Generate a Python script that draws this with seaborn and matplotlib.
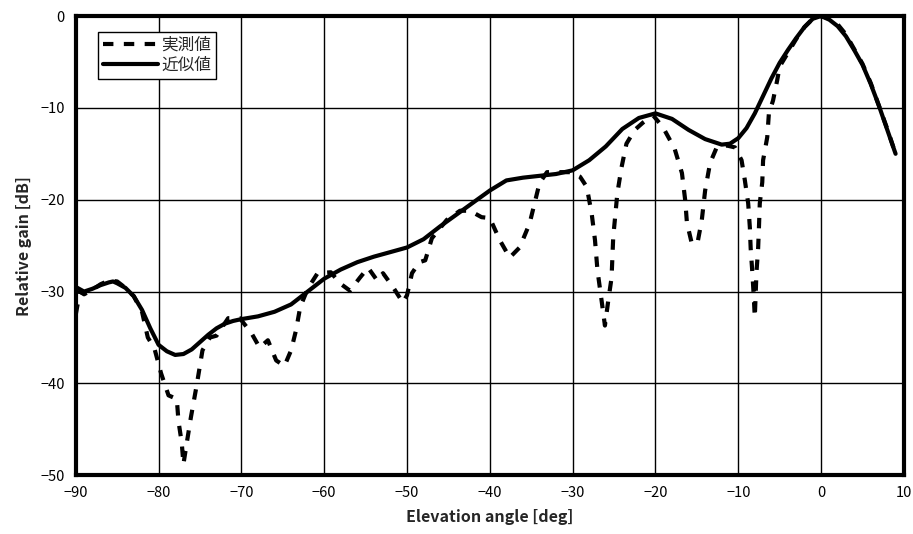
import numpy as np
import pandas as pd
import matplotlib
matplotlib.use("Agg")
import matplotlib.pyplot as plt
import seaborn as sns

# measured pattern (dashed)
meas_x = [-90, -89.5, -89, -88, -87, -86, -85, -84, -83, -82, -81.3, -80.5, -79.7,
          -78.8, -77.8, -77.6, -77.2, -77.0, -76.6, -76.1, -75.4, -74.7, -73.8, -73.0,
          -71.6, -70.2, -68.8, -67.8, -66.8, -65.8, -64.8, -64.0, -63.4, -62.9, -62.0,
          -60.8, -59.2, -58.1, -56.9, -55.7, -54.7, -53.6, -52.9, -51.7, -50.5, -50.0,
          -49.4, -48.5, -47.8, -47.0, -45.2, -43.6, -42.4, -41.0, -40.0, -38.8, -37.6,
          -36.4, -35.2, -34.0, -33.1, -30.3, -29.1, -28.3, -27.7, -27.3, -27.0, -26.5,
          -26.1, -25.7, -25.3, -25.1, -24.6, -24.1, -23.5, -22.5, -21.5, -20.3, -19.1,
          -17.7, -16.8, -16.4, -16.2, -15.6, -14.9, -14.4, -14.0, -13.4, -12.6, -11.4,
          -10.4, -9.6, -9.2, -8.8, -8.6, -8.5, -8.3, -8.15, -8.0, -7.8, -7.6, -7.5,
          -7.4, -7.1, -7.0, -6.5, -6.3, -5.8, -5.3, -5.0, -4, -3, -2, -1, 0, 1, 2, 3,
          4, 5, 6, 7, 8, 9]
meas_y = [-32.5, -30.0, -30.3, -29.8, -29.2, -28.8, -28.9, -29.6, -30.5, -32.2, -35.0,
          -36.2, -38.9, -41.3, -41.7, -44.1, -46.5, -48.8, -46.5, -43.7, -40.2, -36.4,
          -35.0, -34.8, -32.9, -32.9, -34.5, -36.1, -35.3, -37.5, -38.1, -36.4, -34.2,
          -31.7, -29.7, -28.0, -27.9, -29.1, -29.9, -28.5, -27.4, -28.8, -28.0, -29.5,
          -31.2, -30.4, -28.0, -26.8, -26.6, -24.2, -22.2, -21.2, -21.2, -21.9, -22.0,
          -24.4, -26.3, -25.2, -22.6, -18.2, -17.0, -17.0, -17.5, -18.6, -21.5, -24.4,
          -27.7, -31.0, -33.7, -31.0, -28.5, -24.1, -19.3, -16.5, -13.9, -12.4, -11.6,
          -10.8, -12.1, -14.4, -17.1, -20.1, -22.5, -24.8, -24.6, -22.2, -19.0, -16.0,
          -14.3, -14.1, -14.3, -15.7, -17.9, -20.4, -23.0, -25.3, -27.9, -30.2, -32.8,
          -27.9, -25.3, -23.0, -20.4, -18.1, -15.7, -13.2, -10.6, -9.2, -7.0, -5.5,
          -4.0, -2.5, -1.2, -0.3, 0.0, -0.3, -0.9, -2.0, -3.6, -5.2, -7.3, -9.8, -12.3,
          -15.0]

# fitted pattern (solid)
fit_x = [-90, -89, -88, -87, -86, -85.5, -85, -84, -83, -82, -81, -80, -79, -78, -77,
         -76, -75, -74, -73, -72, -71, -70, -68, -66, -64, -62, -60, -58, -56, -54,
         -52, -50, -48, -46, -44, -42, -40, -38, -36, -34, -32, -30, -28, -26, -24,
         -22, -20, -18, -16, -14, -12, -11, -10, -9, -8, -7, -6, -5, -4, -3, -2, -1,
         0, 1, 2, 3, 4, 5, 6, 7, 8, 9]
fit_y = [-29.5, -30.0, -29.7, -29.3, -29.0, -28.9, -29.1, -29.6, -30.5, -32.0, -34.0,
         -35.8, -36.5, -36.9, -36.8, -36.3, -35.5, -34.7, -34.0, -33.5, -33.2, -33.0,
         -32.7, -32.2, -31.4, -30.0, -28.6, -27.6, -26.8, -26.2, -25.7, -25.2, -24.3,
         -22.9, -21.6, -20.3, -19.0, -17.9, -17.6, -17.4, -17.2, -16.8, -15.7, -14.2,
         -12.3, -11.1, -10.6, -11.2, -12.4, -13.4, -14.0, -13.9, -13.3, -12.2, -10.6,
         -8.7, -6.8, -5.1, -3.7, -2.4, -1.2, -0.3, 0.0, -0.4, -1.1, -2.2, -3.7, -5.3,
         -7.4, -9.8, -12.4, -15.0]

x_ticks = list(range(-90, 11, 10))
y_ticks = list(range(-50, 1, 10))

sns.set_style("white")
plt.rcParams['font.family'] = ['Noto Sans CJK JP', 'DejaVu Sans']
plt.rcParams['axes.unicode_minus'] = True

fig = plt.figure(figsize=(9.13, 5.34), dpi=100)
ax = fig.add_axes([0.083, 0.11, 0.907, 0.86])

sns.lineplot(x=meas_x, y=meas_y, ax=ax, sort=False, color='black', linewidth=3,
             linestyle=(0, (2.5, 2.5)), label='実測値')
sns.lineplot(x=fit_x, y=fit_y, ax=ax, sort=False, color='black', linewidth=3,
             solid_joinstyle='round', solid_capstyle='round', label='近似値')

ax.set_xlim(-90, 10)
ax.set_ylim(-50, 0)
ax.set_xticks(x_ticks)
ax.set_yticks(y_ticks)
ax.grid(True, color='black', linewidth=1)
ax.tick_params(direction='in', length=3, width=1, labelsize=10.5, pad=8, colors='black')
for s in ax.spines.values():
    s.set_color('black')
    s.set_linewidth(3)

ax.set_xlabel('Elevation angle [deg]', fontsize=11.5, fontweight='bold', labelpad=6)
ax.set_ylabel('Relative gain [dB]', fontsize=11.5, fontweight='bold', labelpad=6)

leg = ax.legend(loc='upper left', bbox_to_anchor=(0.027, 0.965), frameon=True,
                fancybox=False, framealpha=1, edgecolor='black', handlelength=3.3,
                handletextpad=0.2, borderpad=0.3, labelspacing=0.15, borderaxespad=0,
                fontsize=12)
leg.get_frame().set_linewidth(1)

fig.savefig('out.png', dpi=100)
